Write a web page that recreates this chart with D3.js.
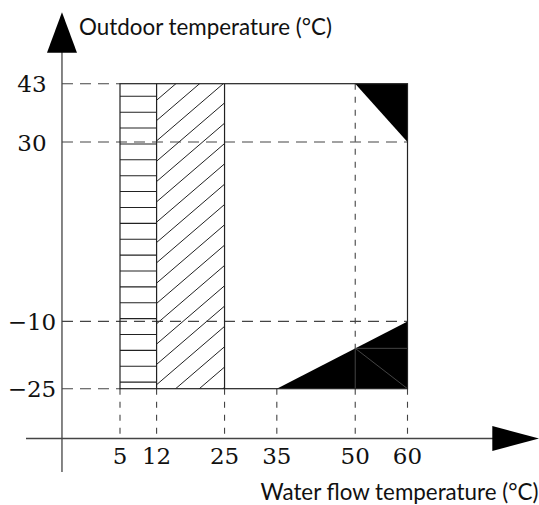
<!DOCTYPE html>
<html>
<head>
<meta charset="utf-8">
<script src="https://cdn.jsdelivr.net/npm/d3@7/dist/d3.min.js"></script>
<style>
  html, body { margin: 0; padding: 0; background: #fff; }
  svg { display: block; }
</style>
</head>
<body>
<svg id="chart" width="539" height="505"></svg>
<script>
// ---- data ----
const xTicks = [5, 12, 25, 35, 50, 60];
const yTicks = [43, 30, -10, -25];
const xTickLabels = ["5", "12", "25", "35", "50", "60"];
const yTickLabels = ["43", "30", "\u221210", "\u221225"];
const xTitle = "Water flow temperature (\u00B0C)";
const yTitle = "Outdoor temperature (\u00B0C)";

// operating envelope box [xmin, xmax, ymin, ymax]
const envelope = [5, 60, -25, 43];
// column with horizontal hatching, column with diagonal hatching
const horizontalHatchZone = [5, 12];
const diagonalHatchZone = [12, 25];
// solid black areas
const blackTop = [[50, 43], [60, 43], [60, 30]];
const blackBottom = [[35, -25], [60, -10], [60, -25]];
// thin interior lines inside the black bottom area
const innerLines = [
  [[50, -16], [50, -25]],
  [[50, -16], [60, -16]],
  [[50, -16], [60, -25]]
];
// horizontal dashed guides: [y, xEnd]
const hGuides = [[43, 5], [30, 60], [-10, 60], [-25, 5]];
// vertical dashed guide at 50 reaching the top
const vGuideTop = [50, 43];

// axis crossing positions (data units)
const axisX0 = -6.1;   // where the y axis stands
const axisY0 = -36.1;  // where the x axis lies

// ---- scales ----
const x = d3.scaleLinear().domain([5, 60]).range([120, 407.5]);
const y = d3.scaleLinear().domain([43, -25]).range([83.7, 388.7]);

const svg = d3.select("#chart");
const lineCol = "#222";
const dashCol = "#444";

const ax = x(axisX0), ay = y(axisY0);

// ---- hatching ----
const hz = svg.append("g");
const hStep = 3.54;
d3.range(0, 19).forEach(k => {
  const yy = 40.19 - k * hStep;
  hz.append("line")
    .attr("x1", x(horizontalHatchZone[0])).attr("x2", x(horizontalHatchZone[1]))
    .attr("y1", y(yy)).attr("y2", y(yy))
    .attr("stroke", lineCol).attr("stroke-width", 1.1);
});
const dStep = 4.53;
const clipId = "diagclip";
svg.append("clipPath").attr("id", clipId).append("rect")
  .attr("x", x(diagonalHatchZone[0])).attr("y", y(envelope[3]))
  .attr("width", x(diagonalHatchZone[1]) - x(diagonalHatchZone[0]))
  .attr("height", y(envelope[2]) - y(envelope[3]));
const dg = svg.append("g").attr("clip-path", `url(#${clipId})`);
for (let c = -49.7 - 10 * dStep; c < 60; c += dStep) {
  const x1 = diagonalHatchZone[0] - 5, x2 = diagonalHatchZone[1] + 5;
  dg.append("line")
    .attr("x1", x(x1)).attr("y1", y(x1 + c))
    .attr("x2", x(x2)).attr("y2", y(x2 + c))
    .attr("stroke", lineCol).attr("stroke-width", 1);
}

// ---- dashed guides ----
const dashes = svg.append("g").attr("stroke", dashCol).attr("stroke-width", 1.1).attr("fill", "none");
hGuides.forEach(([yy, xe]) => {
  dashes.append("line")
    .attr("x1", ax).attr("x2", x(xe))
    .attr("y1", y(yy)).attr("y2", y(yy))
    .attr("stroke-dasharray", "11,7");
});
xTicks.forEach(v => {
  dashes.append("line")
    .attr("x1", x(v)).attr("x2", x(v))
    .attr("y1", y(envelope[2])).attr("y2", ay)
    .attr("stroke-dasharray", "6,7");
});
dashes.append("line")
  .attr("x1", x(vGuideTop[0])).attr("x2", x(vGuideTop[0]))
  .attr("y1", y(vGuideTop[1])).attr("y2", y(envelope[2]))
  .attr("stroke-dasharray", "6,7");

// ---- black areas ----
const line = d3.line().x(d => x(d[0])).y(d => y(d[1]));
svg.append("path").attr("d", line(blackTop) + "Z").attr("fill", "#000");
svg.append("path").attr("d", line(blackBottom) + "Z").attr("fill", "#000");
innerLines.forEach(l => {
  svg.append("path").attr("d", line(l)).attr("stroke", "#555").attr("stroke-width", 0.8).attr("fill", "none");
});

// ---- envelope outline & column borders ----
const ol = svg.append("g").attr("stroke", lineCol).attr("stroke-width", 1.2).attr("fill", "none");
ol.append("rect")
  .attr("x", x(envelope[0])).attr("y", y(envelope[3]))
  .attr("width", x(envelope[1]) - x(envelope[0]))
  .attr("height", y(envelope[2]) - y(envelope[3]));
[horizontalHatchZone[1], diagonalHatchZone[1]].forEach(v => {
  ol.append("line").attr("x1", x(v)).attr("x2", x(v))
    .attr("y1", y(envelope[3])).attr("y2", y(envelope[2]));
});

// ---- axes ----
const axes = svg.append("g").attr("stroke", "#444").attr("stroke-width", 1.3);
axes.append("line").attr("x1", ax).attr("x2", ax).attr("y1", 50).attr("y2", 472);
axes.append("line").attr("x1", 26).attr("x2", 495).attr("y1", ay).attr("y2", ay);
svg.append("path")
  .attr("d", `M${ax},12.3 L${ax + 15},52.7 L${ax - 15},52.7 Z`)
  .attr("fill", "#000");
svg.append("path")
  .attr("d", `M539.3,${ay} L492.3,${ay - 12.5} L492.3,${ay + 12.5} Z`)
  .attr("fill", "#000");

// ---- tick labels ----
const serif = "'DejaVu Serif', serif";
svg.append("g").selectAll("text").data(yTicks).join("text")
  .attr("x", 32).attr("y", d => y(d))
  .attr("dy", "0.37em")
  .attr("text-anchor", "middle")
  .attr("font-family", serif).attr("font-size", 23)
  .attr("fill", "#111")
  .text((d, i) => yTickLabels[i]);
svg.append("g").selectAll("text").data(xTicks).join("text")
  .attr("x", d => x(d)).attr("y", ay + 26)
  .attr("text-anchor", "middle")
  .attr("font-family", serif).attr("font-size", 23)
  .attr("fill", "#111")
  .text((d, i) => xTickLabels[i]);

// ---- titles ----
const sans = "Lato, 'Open Sans', sans-serif";
function fitText(t, target) {
  const w = t.node().getComputedTextLength();
  const fs = +t.attr("font-size");
  t.attr("font-size", (fs * target / w).toFixed(2));
}
const yt = svg.append("text")
  .attr("x", 79).attr("y", 35)
  .attr("font-family", sans).attr("font-size", 20).attr("fill", "#111")
  .text(yTitle);
fitText(yt, 253);
const xt = svg.append("text")
  .attr("x", 538.5).attr("y", 499.5)
  .attr("text-anchor", "end")
  .attr("font-family", sans).attr("font-size", 20).attr("fill", "#111")
  .text(xTitle);
fitText(xt, 278);
</script>
</body>
</html>
